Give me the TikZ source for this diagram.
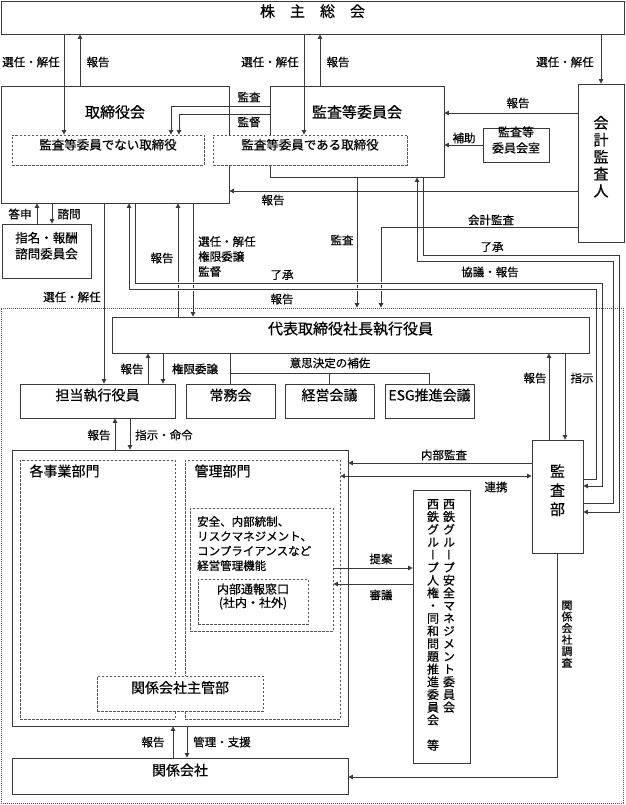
\documentclass[tikz,border=0pt]{standalone}
\usepackage{fontspec}
\setmainfont[FakeBold=0.5,AutoFakeBold=0.5]{Noto Sans CJK JP}
\newfontfamily\tatefont[RawFeature=+vert,FakeBold=0.5,AutoFakeBold=0.5]{Noto Sans CJK JP}
\usepackage{tikz}
\usetikzlibrary{arrows.meta, fit}
\definecolor{linegray}{HTML}{3A3A3A}
\definecolor{dotgray}{HTML}{555555}

% one character per line, for upright (vertical) labels
\makeatletter
\newcommand{\tate}[1]{\tate@a#1\@nil}
\def\tate@a#1#2\@nil{#1\ifx\relax#2\relax\expandafter\@gobble\else\expandafter\@firstofone\fi{\\\tate@a#2\@nil}}
\makeatother

\begin{document}
\begin{tikzpicture}[
  x=1pt, y=-1pt,
  orgbox/.style={draw=linegray, line width=0.8pt, fill=white, inner sep=0pt},
  dashbox/.style={orgbox, draw=dotgray, dash pattern=on 2.5pt off 1.5pt},
  areabox/.style={draw=dotgray, line width=0.7pt, dash pattern=on 0.8pt off 1.2pt, inner sep=0pt},
  ttl/.style={font=\fontsize{15}{17}\selectfont\bfseries},
  btxt/.style={font=\fontsize{14}{16}\selectfont\bfseries},
  lbl/.style={font=\fontsize{11.5}{15}\selectfont\bfseries, inner sep=0pt},
  arr/.style={draw=linegray, line width=0.8pt, -{Triangle[length=4.5pt,width=4.5pt]}},
  arrboth/.style={arr, {Triangle[length=4.5pt,width=4.5pt]}-{Triangle[length=4.5pt,width=4.5pt]}},
  link/.style={draw=linegray, line width=0.8pt},
  bridge/.style={draw=white, line width=3pt}
]
\useasboundingbox (0,0) rectangle (625,805);

% executive side
\node[areabox, fit={(1,308) (623,803)}] (exec) {};

% governance boxes
\node[orgbox, ttl, fit={(1,1) (624,34)}] (soukai) {株　主　総　会};
\node[orgbox, fit={(1,86) (229,203)}] (tori) {};
\node[orgbox, fit={(270,86) (444,177)}] (kansa) {};
\node[ttl] (toriT) at (115,112) {取締役会};
\node[ttl] (kansaT) at (357,112) {監査等委員会};
\node[dashbox, font=\fontsize{12.5}{15}\selectfont\bfseries, fit={(12,135) (204,165)}] (nonaudit) {監査等委員でない取締役};
\node[dashbox, font=\fontsize{12.5}{15}\selectfont\bfseries, fit={(213,135) (407,165)}] (audit) {監査等委員である取締役};
\node[orgbox, font=\fontsize{12}{16}\selectfont\bfseries, align=center, fit={(483,128) (549,162)}] (shitsu) {監査等\\委員会室};
\node[orgbox, font={\tatefont\fontsize{15}{17}\selectfont\bfseries}, align=center, fit={(578,84) (624,242)}] (kaikei) {\tate{会計監査人}};
\node[orgbox, font=\fontsize{12.5}{16}\selectfont\bfseries, align=center, fit={(2,224) (91,278)}] (shimei) {指名・報酬\\諮問委員会};

% executive boxes
\node[orgbox, ttl, fit={(112,317) (589,353)}] (daihyo) {代表取締役社長執行役員};
\node[orgbox, btxt, fit={(20,384) (175,418)}] (tanto) {担当執行役員};
\node[orgbox, btxt, fit={(186,384) (275,418)}] (jomu) {常務会};
\node[orgbox, btxt, fit={(285,384) (374,418)}] (keiei) {経営会議};
\node[orgbox, btxt, fit={(385,384) (474,418)}] (esg) {ESG推進会議};
\node[orgbox, font={\tatefont\fontsize{15}{19}\selectfont\bfseries}, align=center, fit={(532,440) (583,553)}] (kansabu) {\tate{監査部}};

\node[orgbox, fit={(12,450) (348,726)}] (jigyo) {};
\node[dashbox, fit={(20,460) (175,719)}] (kakubu) {};
\node[dashbox, fit={(185,460) (340,719)}] (kanri) {};
\node[btxt, anchor=west] (kakubuT) at (26,471) {各事業部門};
\node[btxt, anchor=west] (kanriT) at (191,471) {管理部門};
\node[dashbox, fit={(190,508) (333,631)}] (kinou) {};
\node[lbl, anchor=north west, align=left, font=\fontsize{11.5}{14.7}\selectfont\bfseries] (kinouT) at (197,516) {安全、内部統制、\\リスクマネジメント、\\コンプライアンスなど\\経営管理機能};
\node[dashbox, font=\fontsize{12}{13.5}\selectfont\bfseries, align=center, fit={(198,579) (308,624)}] (tsuho) {内部通報窓口\\(社内・社外)};
\node[dashbox, btxt, fit={(97,676) (263,711)}] (shukan) {関係会社主管部};

\node[orgbox, fit={(413,490) (470,763)}] (iinkai) {};
\node[font={\tatefont\fontsize{12}{12.7}\selectfont\bfseries}, align=center, anchor=north, inner sep=0pt] (iinR) at (449,499) {\tate{西鉄グループ安全マネジメント委員会}};
\node[font={\tatefont\fontsize{12}{12.7}\selectfont\bfseries}, align=center, anchor=north, inner sep=0pt] (iinL) at (433,499) {\tate{西鉄グループ人権・同和問題推進委員会　等}};
\node[orgbox, btxt, fit={(12,758) (348,794)}] (kankei) {関係会社};

% shareholders' meeting
\draw[arr] (soukai.south -| 64,0) -- (nonaudit.north -| 64,0);
\draw[arr] (tori.north -| 80,0) -- (soukai.south -| 80,0);
\draw[arr] (soukai.south -| 304,0) -- (audit.north -| 304,0);
\draw[arr] (kansa.north -| 320,0) -- (soukai.south -| 320,0);
\draw[arr] (soukai.south -| kaikei.north) -- (kaikei.north);
\node[lbl] (l1) at (31,62) {選任・解任};
\node[lbl] (l2) at (98,62) {報告};
\node[lbl] (l3) at (270,62) {選任・解任};
\node[lbl] (l4) at (338,62) {報告};
\node[lbl] (l5) at (565,62) {選任・解任};

% audit committee, accounting auditor
\draw[arr] (kansa.west |- 0,106) -- (171,106) -- (nonaudit.north -| 171,0);
\draw[arr] (kansa.west |- 0,114) -- (179,114) -- (nonaudit.north -| 179,0);
\draw[arr] (kaikei.west |- 0,113) -- (kansa.east |- 0,113);
\draw[arr] (shitsu.west) -- (kansa.east |- shitsu.west);
\draw[arr] (kaikei.west |- 0,191) -- (tori.east |- 0,191);
\draw[arr] (kaikei.west |- 0,227) -- (381,227) -- (exec.north -| 381,0);
\draw[arr] (kansa.south -| 357,0) -- (exec.north -| 357,0);
\node[lbl] (l6) at (249,97) {監査};
\node[lbl] (l7) at (249,122) {監督};
\node[lbl] (l8) at (518,103) {報告};
\node[lbl] (l9) at (464,138) {補助};
\node[lbl] (l10) at (273,200) {報告};
\node[lbl] (l13) at (491,220) {会計監査};
\node[lbl] (l14) at (342,240) {監査};

% board of directors
\draw[arr] (shimei.north -| 37,0) -- (tori.south -| 37,0);
\draw[arr] (tori.south -| 52,0) -- (shimei.north -| 52,0);
\draw[arr] (tori.south -| 104,0) -- (tanto.north -| 104,0);
\draw[arr] (daihyo.north -| 178,0) -- (tori.south -| 178,0);
\draw[arr] (tori.south -| 193,0) -- (daihyo.north -| 193,0);
\node[lbl] (l11) at (20,214) {答申};
\node[lbl] (l12) at (69,214) {諮問};
\node[lbl] (l15) at (162,258) {報告};
\node[lbl, align=left, anchor=north west] (l16) at (198,236) {選任・解任\\権限委譲\\監督};
\node[lbl] (l21) at (72,297) {選任・解任};

% audit department
\foreach \yy in {283,289} \draw[bridge] (170,\yy) -- (390,\yy);
\draw[arr] (kansa.south -| 423,0) -- (423,255) -- (619,255) -- (619,512) -- (kansabu.east |- 0,512);
\draw[arr] (kansabu.east |- 0,503) -- (613,503) -- (613,261) -- (417,261) -- (kansa.south -| 417,0);
\draw[arr] (tori.south -| 135,0) -- (135,283) -- (602,283) -- (602,486) -- (kansabu.east |- 0,486);
\draw[arr] (kansabu.east |- 0,479) -- (596,479) -- (596,289) -- (129,289) -- (tori.south -| 129,0);
\node[lbl] (l19) at (492,247) {了承};
\node[lbl] (l20) at (490,272) {協議・報告};
\node[lbl] (l17) at (282,275) {了承};
\node[lbl] (l18) at (282,299) {報告};

% president and executive officers
\draw[arr] (tanto.north -| 148,0) -- (daihyo.south -| 148,0);
\draw[arr] (daihyo.south -| 163,0) -- (tanto.north -| 163,0);
\draw[link] (daihyo.south -| jomu.north) -- (jomu.north);
\draw[link] (jomu.north |- 0,373) -- (esg.north |- 0,373) -- (esg.north);
\draw[link] (keiei.north |- 0,373) -- (keiei.north);
\draw[arr] (kansabu.north -| 549,0) -- (daihyo.south -| 549,0);
\draw[arr] (daihyo.south -| 565,0) -- (kansabu.north -| 565,0);
\node[lbl] (l22) at (132,369) {報告};
\node[lbl] (l23) at (195,369) {権限委譲};
\node[lbl] (l24) at (330,363) {意思決定の補佐};
\node[lbl] (l25) at (535,378) {報告};
\node[lbl] (l26) at (582,378) {指示};

% divisions
\draw[arr] (jigyo.north -| 115,0) -- (tanto.south -| 115,0);
\draw[arr] (tanto.south -| 130,0) -- (jigyo.north -| 130,0);
\draw[arr] (kansabu.west |- 0,463) -- (jigyo.east |- 0,463);
\draw[arrboth] (kanri.east |- 0,476) -- (kansabu.west |- 0,476);
\draw[arr] (kinou.east |- 0,568) -- (iinkai.west |- 0,568);
\draw[arr] (iinkai.west |- 0,584) -- (kinou.east |- 0,584);
\draw[arr] (kankei.north -| 173,0) -- (jigyo.south -| 173,0);
\draw[arr] (jigyo.south -| 187,0) -- (kankei.north -| 187,0);
\draw[arr] (kansabu.south) -- (kansabu.south |- 0,777) -- (kankei.east |- 0,777);
\node[lbl] (l27) at (99,435) {報告};
\node[lbl] (l28) at (164,435) {指示・命令};
\node[lbl] (l29) at (444,455) {内部監査};
\node[lbl] (l30) at (496,487) {連携};
\node[lbl] (l31) at (381,559) {提案};
\node[lbl] (l32) at (381,595) {審議};
\node[lbl, font={\tatefont\fontsize{11}{11.5}\selectfont\bfseries}, align=center] (l33) at (567,634) {\tate{関係会社調査}};
\node[lbl] (l34) at (153,742) {報告};
\node[lbl] (l35) at (222,742) {管理・支援};
\end{tikzpicture}
\end{document}
